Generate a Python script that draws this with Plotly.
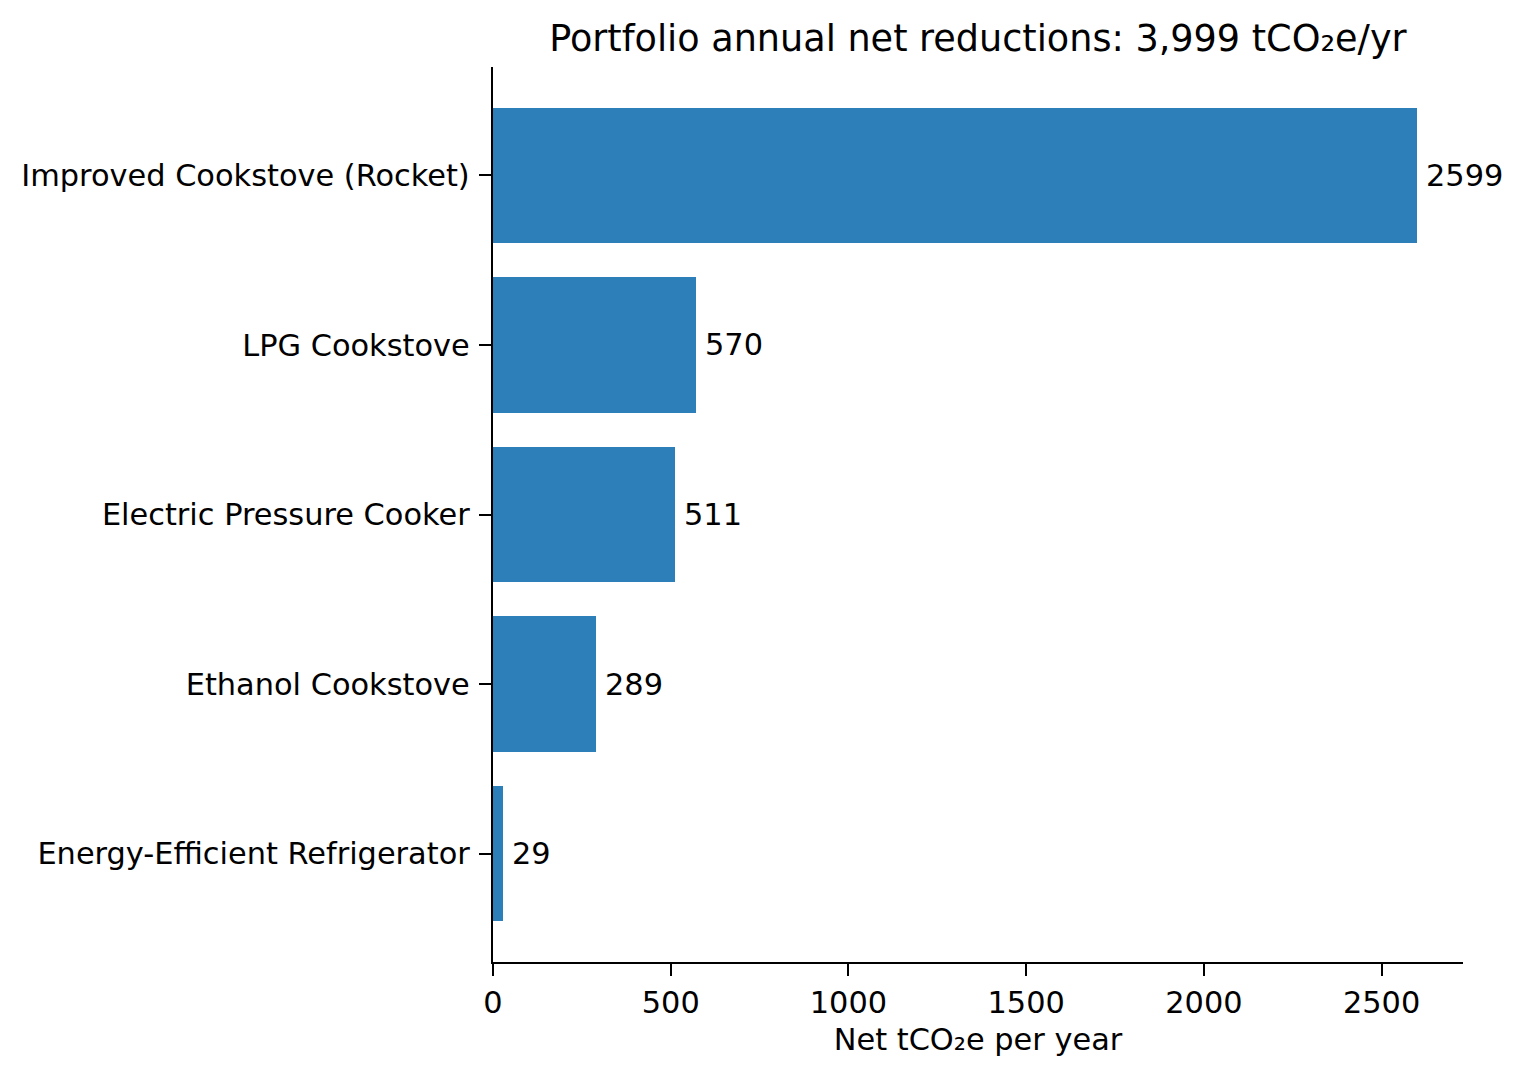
import plotly.graph_objects as go

categories = ["Improved Cookstove (Rocket)", "LPG Cookstove", "Electric Pressure Cooker",
              "Ethanol Cookstove", "Energy-Efficient Refrigerator"]
values = [2599, 570, 511, 289, 29]
x_ticks = [0, 500, 1000, 1500, 2000, 2500]
title_text = "Portfolio annual net reductions: 3,999 tCO₂e/yr"
x_title = "Net tCO₂e per year"

FONT = "DejaVu Sans"
BAR = "#2c7fb8"
FS = 30.4

fig = go.Figure()
fig.add_trace(go.Bar(
    x=values, y=list(range(len(categories))), orientation="h",
    width=0.8, marker=dict(color=BAR, line=dict(width=0)),
    hoverinfo="skip",
))
for i, v in enumerate(values):
    fig.add_annotation(x=v, y=i, text=str(v), showarrow=False, xanchor="left",
                       yanchor="middle", xshift=7, font=dict(family=FONT, size=FS, color="black"))

xmax = max(values) * 1.05
fig.update_layout(
    width=1525, height=1076,
    margin=dict(l=485, r=70, t=59, b=122),
    paper_bgcolor="white", plot_bgcolor="white",
    showlegend=False,
    font=dict(family=FONT, size=FS, color="black"),
    title=dict(text=title_text, x=0.636, xanchor="center", y=0.9721, yanchor="middle",
               font=dict(family=FONT, size=36.6, color="black")),
    bargap=0,
)
fig.update_xaxes(
    range=[0, xmax], tickvals=x_ticks, ticktext=[str(t) for t in x_ticks],
    showgrid=False, zeroline=False, showline=True, linecolor="black", linewidth=2.4,
    ticks="outside", ticklen=12, tickwidth=2.4, tickcolor="black",
    tickfont=dict(family=FONT, size=FS, color="black"),
    title=dict(text=x_title, font=dict(family=FONT, size=FS, color="black"), standoff=10),
)
fig.update_yaxes(
    range=[len(categories) - 1 + 0.64, -0.64],
    tickvals=list(range(len(categories))), ticktext=categories,
    showgrid=False, zeroline=False, showline=True, linecolor="black", linewidth=2.4,
    ticks="outside", ticklen=12, tickwidth=2.4, tickcolor="black",
    ticklabelstandoff=3,
    tickfont=dict(family=FONT, size=FS, color="black"),
)
fig.write_html("out.html")
